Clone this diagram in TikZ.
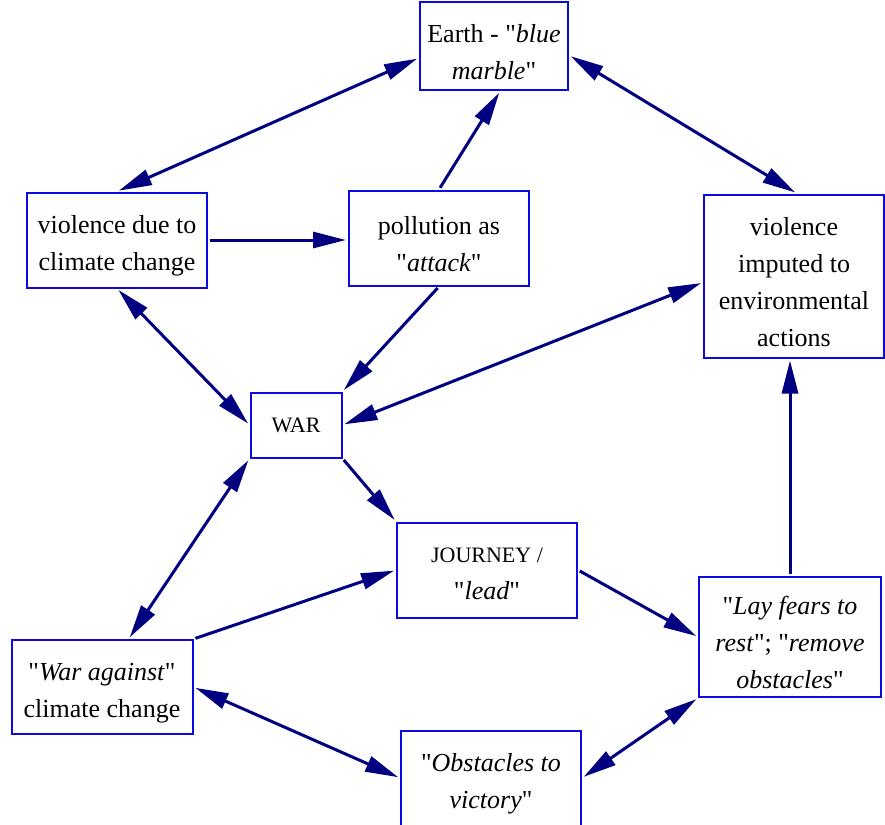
\documentclass[tikz,border=0pt]{standalone}
\usepackage{fontspec}
\setmainfont{Liberation Serif}
\usetikzlibrary{arrows.meta}
\definecolor{boxblue}{RGB}{10,10,225}
\definecolor{arrnavy}{RGB}{0,0,128}
\newcommand{\capsize}{\fontsize{22}{37}\selectfont}
\newcommand{\qmark}{\textquotedbl}
\begin{document}
\begin{tikzpicture}[x=1pt,y=-1pt,
    concept/.style={draw=boxblue,line width=2pt,inner sep=0pt,align=flush center,text width=170pt,
      minimum width=180pt,minimum height=95pt,font=\fontsize{26}{37}\selectfont},
    lowtext/.style={execute at begin node={\rule{0pt}{#1}}},
    lowtext/.default=30pt,
    link/.style={arrnavy,line width=3pt,shorten >=2pt,shorten <=2pt,
      -{Triangle[length=33pt,width=16pt]}},
    bilink/.style={link,{Triangle[length=33pt,width=16pt]}-{Triangle[length=33pt,width=16pt]}}]
    \useasboundingbox (0,0) rectangle (885,824);
    \node[concept,lowtext,text width=140pt,minimum width=148pt,minimum height=88pt] (earth)
      at (494,46) {Earth - \qmark\textit{blue}\\\textit{marble}\qmark};
    \node[concept,lowtext] (climviol) at (117,240) {violence due to\\climate change};
    \node[concept,lowtext] (pollution) at (439,238) {pollution as\\\qmark\textit{attack}\qmark};
    \node[concept,lowtext,minimum height=163pt] (imputed) at (794,276)
      {violence\\imputed to\\environmental\\actions};
    \node[concept,text width=80pt,minimum width=91pt,minimum height=65pt] (war)
      at (296,425) {\capsize WAR};
    \node[concept,lowtext=22pt] (journey) at (487,570)
      {{\capsize JOURNEY /}\\\qmark\textit{lead}\qmark};
    \node[concept,lowtext,minimum width=182pt,minimum height=120pt] (layfears) at (790,637)
      {\qmark\textit{Lay fears to}\\\textit{rest}\qmark; \qmark\textit{remove}\\\textit{obstacles}\qmark};
    \node[concept,lowtext,minimum width=181pt,minimum height=94pt] (waragainst) at (102,687)
      {\qmark\textit{War against}\qmark\\climate change};
    \node[concept,lowtext] (obstacles) at (491,778) {\qmark\textit{Obstacles to}\\\textit{victory}\qmark};
    % links
    \draw[bilink] (earth.189) -- (climviol.north);
    \draw[bilink] (earth.-7) -- (imputed.88);
    \draw[link] (pollution.north) -- (earth.-82);
    \draw[link] (climviol.east) -- (climviol.east -| pollution.west);
    \draw[link] (pollution.south) -- (war.north east);
    \draw[bilink] (climviol.south) -- (war.west);
    \draw[bilink] (imputed.184) -- (war.east);
    \draw[link] (war.south east) -- (journey.north west);
    \draw[bilink] (war.south west) -- (waragainst.61);
    \draw[link] (waragainst.north east) -- (journey.west);
    \draw[link] (journey.east) -- (layfears.west);
    \draw[link] (layfears.north) -- (layfears.north |- imputed.south);
    \draw[bilink] (waragainst.east) -- (obstacles.west);
    \draw[bilink] (obstacles.east) -- (layfears.south west);
\end{tikzpicture}
\end{document}
